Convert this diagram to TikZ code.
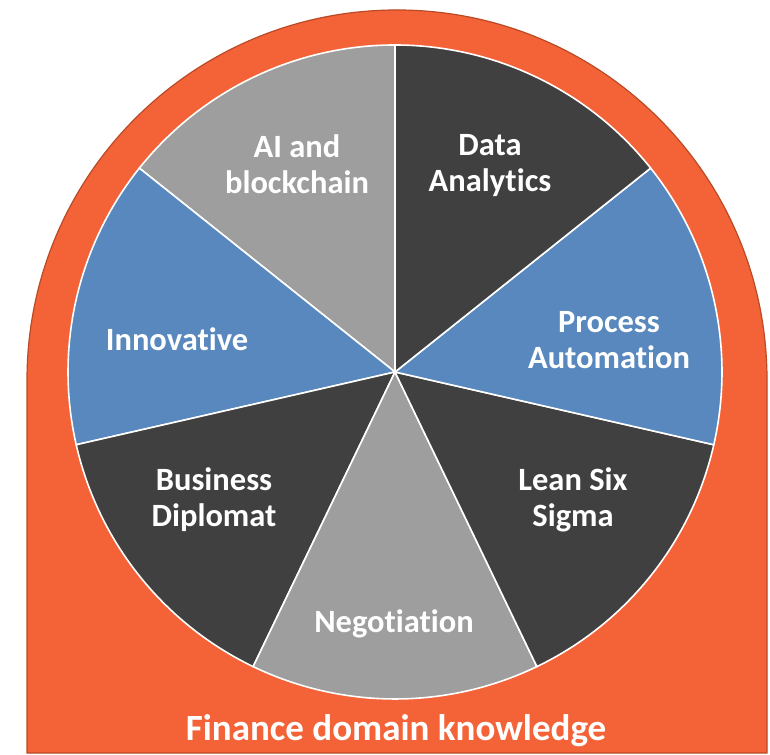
\documentclass[tikz,border=0pt]{standalone}
\usepackage{fontspec}
\setmainfont{Carlito}[Ligatures=NoCommon]
\definecolor{orfill}{HTML}{F46338}
\definecolor{oredge}{HTML}{B94A25}
\definecolor{lgray}{HTML}{9E9E9E}
\definecolor{dgray}{HTML}{404040}
\definecolor{sblue}{HTML}{5888BD}
\begin{document}
\begin{tikzpicture}[x=1pt,y=1pt,
  slicestyle/.style={draw=white,line width=1.6pt,line join=round},
  lbl/.style={text=white,font=\bfseries\fontsize{32.5}{36}\selectfont,align=center,inner sep=0pt},
  biglbl/.style={text=white,font=\bfseries\fontsize{37}{40}\selectfont,inner sep=0pt}]
\useasboundingbox (0,0) rectangle (770,754);
% orange arch
\draw[fill=orfill,draw=oredge,line width=1.2pt] (27,1) -- (27,374) arc[start angle=180,end angle=0,radius=370] -- (767,1) -- cycle;
% pie
\coordinate (c) at (395,382);
\def\R{327}
\foreach \k/\col in {0/lgray,1/sblue,2/dgray,3/lgray,4/dgray,5/sblue,6/dgray}{
  \pgfmathsetmacro{\aa}{90+\k*360/7}
  \pgfmathsetmacro{\ab}{90+(\k+1)*360/7}
  \filldraw[slicestyle,fill=\col] (c) -- ++(\aa:\R) arc[start angle=\aa,end angle=\ab,radius=\R] -- cycle;
}
\node[lbl] (ai) at (297,590) {AI and\\blockchain};
\node[lbl] (da) at (490,588) {Data\\Analytics};
\node[lbl] (pa) at (609,414) {Process\\Automation};
\node[lbl] (ls) at (573,254) {Lean Six\\Sigma};
\node[lbl] (ne) at (394,130) {Negotiation};
\node[lbl] (bd) at (214,254) {Business\\Diplomat};
\node[lbl] (in) at (177,415) {Innovative};
\node[biglbl] (fd) at (396,23) {Finance domain knowledge};
\end{tikzpicture}
\end{document}
